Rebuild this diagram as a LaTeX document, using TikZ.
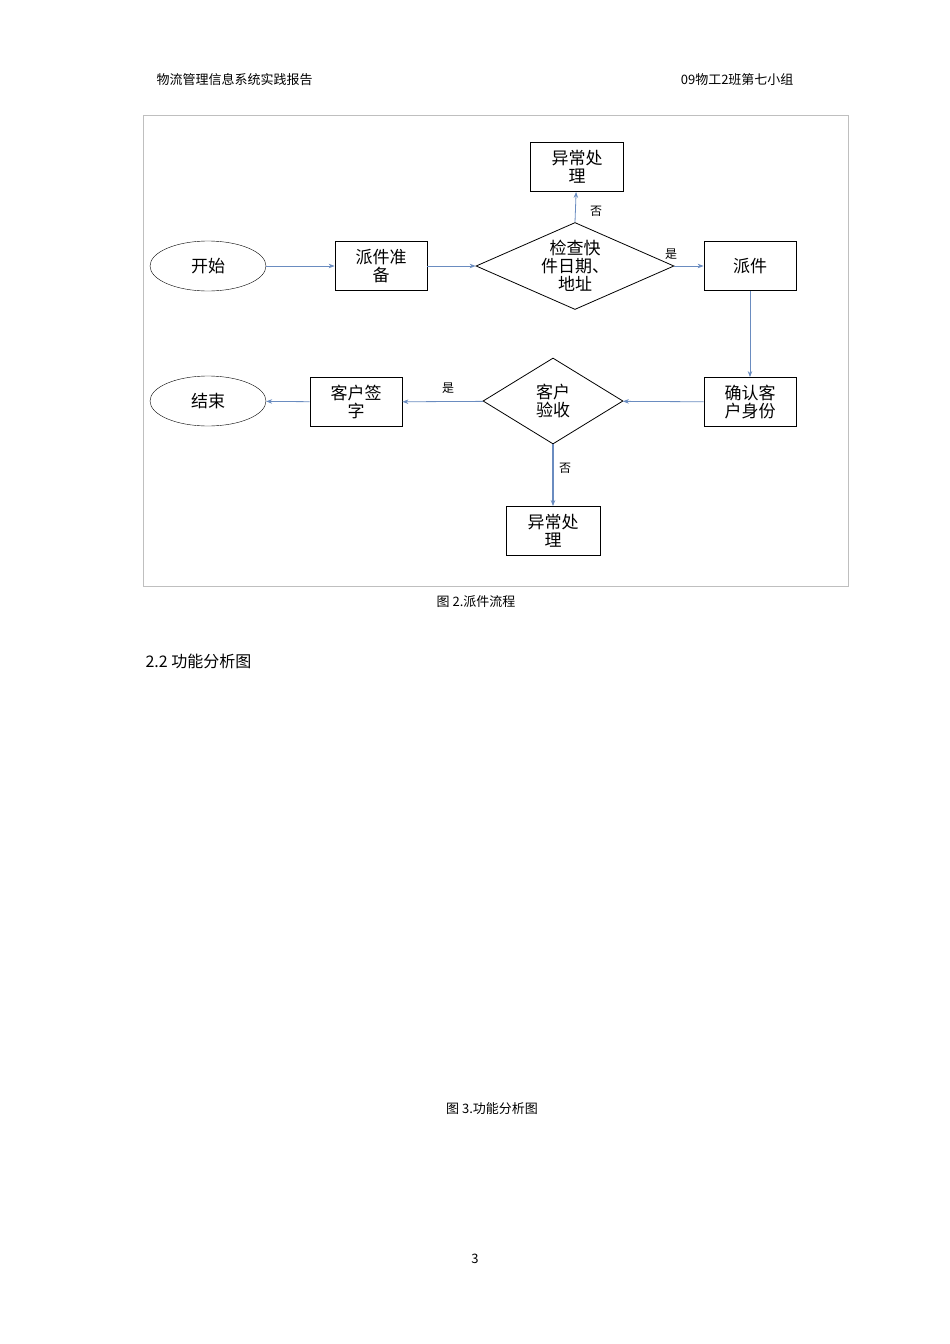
\documentclass[tikz,border=0pt]{standalone}
\usepackage{fontspec}
\newfontfamily\cjk{Noto Sans CJK SC}
\usetikzlibrary{shapes.geometric,arrows.meta}
\definecolor{arrc}{HTML}{6A8CC0}
\begin{document}
\begin{tikzpicture}[x=1pt,y=-1pt,
 box/.style={draw,thick,minimum width=92pt,minimum height=49pt,align=center,inner sep=1pt,font=\cjk\fontsize{17}{21}\selectfont},
 ell/.style={draw,ellipse,minimum width=116pt,minimum height=50pt,font=\cjk\fontsize{17}{21}\selectfont},
 dia/.style={draw,thick,diamond,inner sep=0pt,align=center},
 arr/.style={draw=arrc,-{Stealth[length=6pt]},thick},
 lab/.style={font=\cjk\fontsize{12}{14}\selectfont},
 txt/.style={font=\cjk\fontsize{13}{15}\selectfont}]
\useasboundingbox (0,0) rectangle (950,1344);
\node[txt,anchor=west] (h1) at (153,80) {物流管理信息系统实践报告};
\node[txt,anchor=east] (h2) at (797,80) {09物工2班第七小组};
\draw[gray!50] (143,115) rectangle (848,586);
\node[ell] (start) at (208,266) {开始};
\node[box] (prep) at (381,266) {派件准\\[-3pt]备};
\node[dia,minimum width=198pt,minimum height=87pt] (chk) at (575,266) {};
\node[font=\cjk\fontsize{17}{21}\selectfont,align=center] (chkt) at (575,266) {检查快\\[-3pt]件日期、\\[-3pt]地址};
\node[box,minimum width=93pt] (ex1) at (577,167) {异常处\\[-3pt]理};
\node[box] (disp) at (750,266) {派件};
\node[box] (conf) at (750,402) {确认客\\[-3pt]户身份};
\node[dia,minimum width=140pt,minimum height=86pt] (acc) at (553,401) {};
\node[font=\cjk\fontsize{17}{21}\selectfont,align=center] (acct) at (553,401) {客户\\[-3pt]验收};
\node[box] (sign) at (356,402) {客户签\\[-3pt]字};
\node[ell] (end) at (208,401) {结束};
\node[box,minimum width=94pt] (ex2) at (553,531) {异常处\\[-3pt]理};
\draw[arr] (start) -- (prep);
\draw[arr] (prep) -- (chk);
\draw[arr] (chk) -- (disp);
\draw[arr] (chk.north) -- (ex1);
\draw[arr] (disp) -- (conf);
\draw[arr] (conf) -- (acc);
\draw[arr] (acc) -- (sign);
\draw[arr] (sign) -- (end);
\draw[arr,line width=1.8pt] (acc.south) -- (ex2);
\node[lab] (n1) at (596,211) {否};
\node[lab] (y1) at (671,254) {是};
\node[lab] (y2) at (448,388) {是};
\node[lab] (n2) at (565,468) {否};
\node[txt] (cap1) at (476,602) {图 2.派件流程};
\node[font=\cjk\fontsize{16}{18}\selectfont,anchor=west] (sec) at (142,661) {2.2 功能分析图};
\node[txt] (cap2) at (492,1109) {图 3.功能分析图};
\node[txt] (pg) at (475,1259) {3};
\end{tikzpicture}
\end{document}
